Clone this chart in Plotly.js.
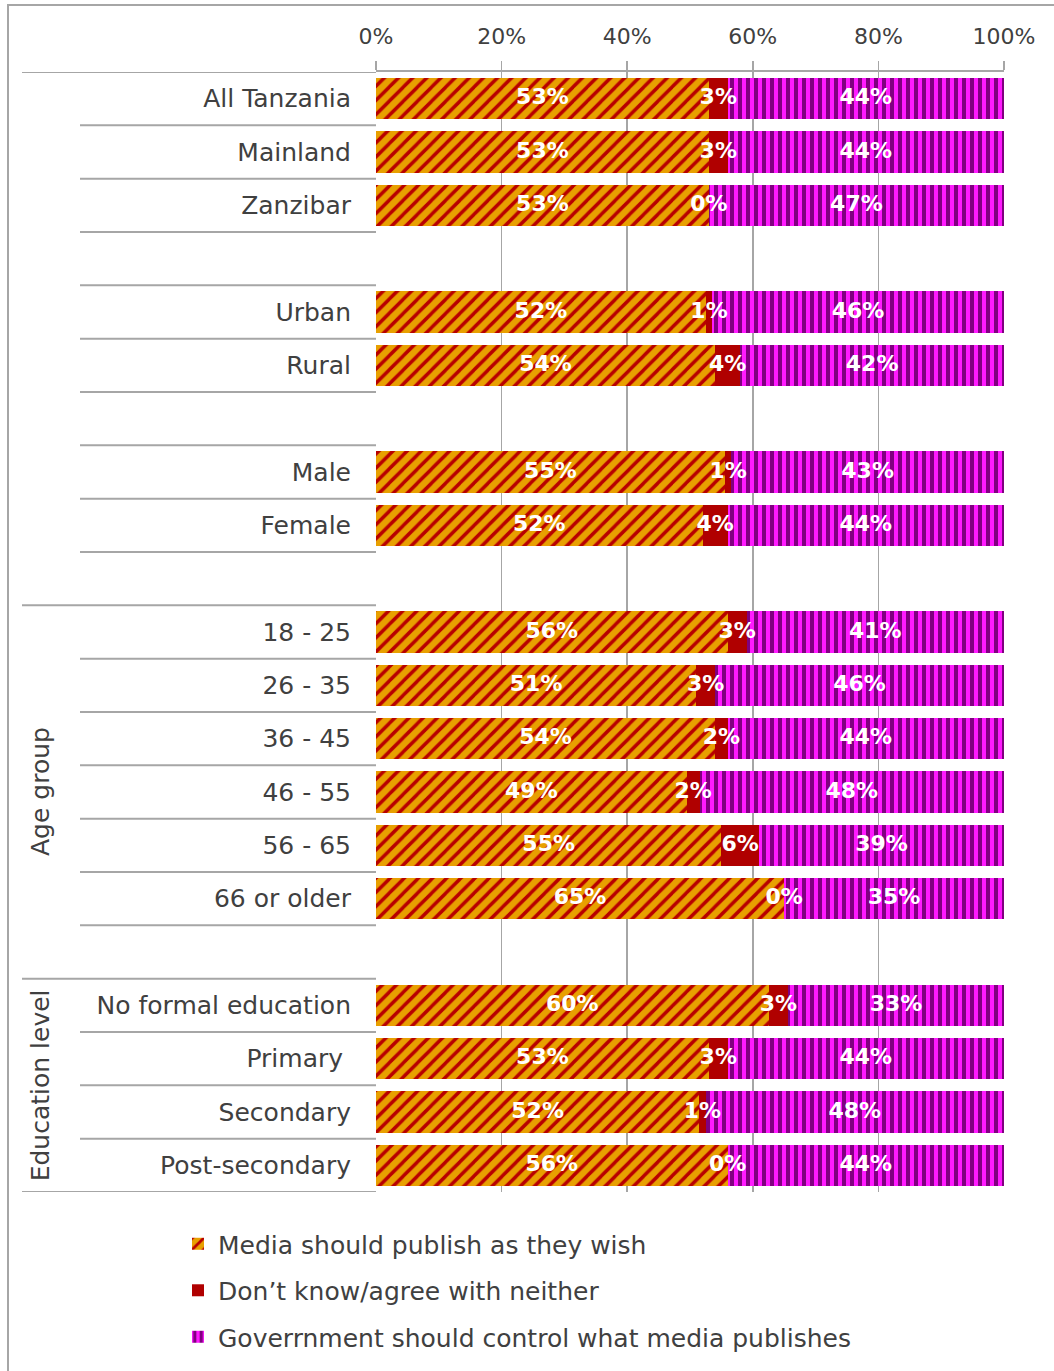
<!DOCTYPE html>
<html><head><meta charset="utf-8">
<script src="https://cdn.plot.ly/plotly-3.0.1.min.js"></script>
<style>
body{margin:0;background:#fff}
#wrap{position:relative;width:1054px;height:1371px;overflow:hidden}
#frame{position:absolute;left:7px;top:4px;right:-4px;bottom:-4px;border-left:2px solid #a6a6a6;border-top:2px solid #a6a6a6;pointer-events:none}
</style>
</head><body>
<div id="wrap"><div id="chart"></div><div id="frame"></div></div>
<script>
// ---- data ----
const rows = ["All Tanzania","Mainland","Zanzibar","","Urban","Rural","","Male","Female","",
  "18 - 25","26 - 35","36 - 45","46 - 55","56 - 65","66 or older","",
  "No formal education","Primary\u00a0","Secondary","Post-secondary"];
const mediaFree  = [53,53,53,null,52,54,null,55,52,null,56,51,54,49,55,65,null,60,53,52,56];
const dontKnow   = [3,3,0,null,1,4,null,1,4,null,3,3,2,2,6,0,null,3,3,1,0];
const govControl = [44,44,47,null,46,42,null,43,44,null,41,46,44,48,39,35,null,33,44,48,44];
const seriesNames = ["Media should publish as they wish","Don\u2019t know/agree with neither","Goverrnment should control what media publishes"];
const xTicks = [0,20,40,60,80,100];
const groupLabels = ["Age group","Education level"];
const groupFirstRows = ["18 - 25","No formal education"];
const groupEndRows = ["No formal education", null];

// ---- build ----
const ypos = rows.map((_, i) => i);
const font = "DejaVu Sans, sans-serif";
const txtCol = "#404040";
const gridCol = "#a6a6a6";

const series = [mediaFree, dontKnow, govControl];
const patterns = [
  {shape:"/", bgcolor:"#E8A000", fgcolor:"#B80000", size:10, solidity:0.35, fillmode:"replace"},
  null,
  {shape:"|", bgcolor:"#FF1AFF", fgcolor:"#800080", size:8, solidity:0.5, fillmode:"replace"}
];
const solid = ["#E8A000","#B00000","#FF1AFF"];

const traces = series.map((vals, k) => {
  const m = {color: solid[k], line:{width:0}};
  if (patterns[k]) m.pattern = patterns[k];
  return {
    type:"bar", orientation:"h", x: vals, y: ypos, name: seriesNames[k],
    marker: m, hoverinfo:"skip", legendgroup:"g"+k
  };
});

// labels centred in each segment (positions from normalized data)
const lx = [], ly = [], lt = [];
rows.forEach((r, i) => {
  if (mediaFree[i] == null) return;
  const vals = series.map(s => s[i]);
  const tot = vals.reduce((a,b)=>a+b,0);
  let cum = 0;
  vals.forEach(v => {
    lx.push((cum + v/2) / tot * 100);
    ly.push(i);
    lt.push(v + "%");
    cum += v;
  });
});
traces.push({
  type:"scatter", mode:"text", x: lx, y: ly, text: lt, showlegend:false,
  hoverinfo:"skip", cliponaxis:false,
  textfont:{family:"DejaVu Sans, sans-serif", size:22, color:"#ffffff", weight:"bold"}
});

// separator lines in the label area
const plotW = 628;
const shortX0 = (80-376)/plotW, longX0 = (22-376)/plotW;
const longBounds = new Set([-0.5, rows.length-0.5].concat(groupFirstRows.map(r => rows.indexOf(r)-0.5)));
const shapes = [];
for (let b = -0.5; b <= rows.length - 0.5; b += 1) {
  shapes.push({type:"line", xref:"paper", yref:"y", x0: longBounds.has(b) ? longX0 : shortX0, x1:0,
    y0:b, y1:b, line:{color:gridCol, width:2}});
}

const annotations = groupLabels.map((g, k) => {
  const start = rows.indexOf(groupFirstRows[k]) - 0.5;
  const end = groupEndRows[k] ? rows.indexOf(groupEndRows[k]) - 0.5 : rows.length - 0.5;
  return {xref:"paper", yref:"y", x:(40-376)/plotW, y:(start+end)/2, text:g, textangle:-90,
    showarrow:false, font:{family:font, size:25, color:txtCol}, xanchor:"center", yanchor:"middle"};
});

const layout = {
  width:1054, height:1371,
  margin:{l:376, r:50, t:72, b:178, pad:0},
  paper_bgcolor:"rgba(0,0,0,0)", plot_bgcolor:"#ffffff",
  barmode:"stack", barnorm:"percent", bargap:0.23,
  showlegend:true,
  font:{family:font, color:txtCol},
  xaxis:{side:"top", range:[0,100], tickvals:xTicks, ticktext:xTicks.map(v=>v+"%"),
    showgrid:true, gridcolor:gridCol, gridwidth:1.5, zeroline:false,
    ticks:"outside", ticklen:9, tickcolor:gridCol, tickwidth:1.5,
    showline:true, linecolor:gridCol, linewidth:2,
    tickfont:{family:font, size:22, color:txtCol}, ticklabelstandoff:8, fixedrange:true},
  yaxis:{range:[rows.length-0.5, -0.5], tickvals:ypos, ticktext:rows, showgrid:false, zeroline:false,
    ticks:"", showline:false, tickfont:{family:font, size:25, color:txtCol}, ticklabelstandoff:24, fixedrange:true},
  legend:{orientation:"v", x:(178-376)/plotW, xanchor:"left", y:-0.025, yanchor:"top",
    font:{family:font, size:25, color:txtCol}, tracegroupgap:11, itemwidth:30, bgcolor:"rgba(0,0,0,0)"},
  shapes: shapes,
  annotations: annotations
};

Plotly.newPlot("chart", traces, layout, {staticPlot:true, displayModeBar:false});
</script>
</body></html>
